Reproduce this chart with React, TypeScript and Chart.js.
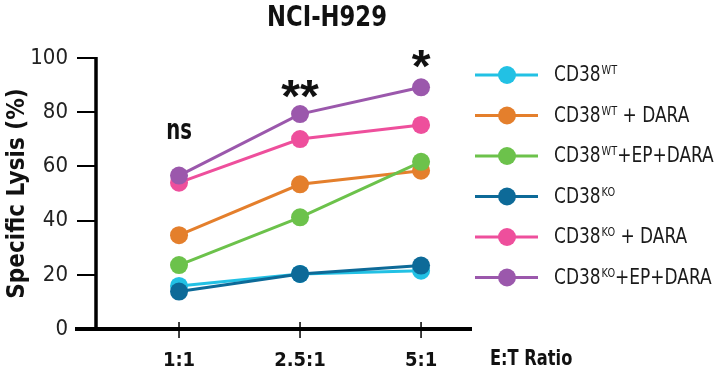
import React, { useEffect, useRef } from "react";
import { Chart, registerables } from "chart.js";

Chart.register(...registerables);

// ---------- data ----------
const categories = ["1:1", "2.5:1", "5:1"];
const cd38wt = [15.9, 20.3, 21.5];
const cd38wtDara = [34.6, 53.4, 58.4];
const cd38wtEpDara = [23.6, 41.2, 61.7];
const cd38ko = [13.8, 20.3, 23.4];
const cd38koDara = [54.0, 70.1, 75.3];
const cd38koEpDara = [56.6, 79.3, 89.2];
const seriesValues = [cd38wt, cd38wtDara, cd38wtEpDara, cd38ko, cd38koDara, cd38koEpDara];
const seriesBase = ["CD38", "CD38", "CD38", "CD38", "CD38", "CD38"];
const seriesSup = ["WT", "WT", "WT", "KO", "KO", "KO"];
const seriesRest = ["", " + DARA", "+EP+DARA", "", " + DARA", "+EP+DARA"];
const seriesColors = ["#22c1e4", "#e47f2c", "#6cc24b", "#0d6a98", "#ee4f9c", "#9b58ac"];
const significance = ["ns", "**", "*"];
const yTicks = [0, 20, 40, 60, 80, 100];
const chartTitle = "NCI-H929";
const yTitle = "Specific Lysis (%)";
const xTitle = "E:T Ratio";

const FONT = "'DejaVu Sans Condensed', 'DejaVu Sans', sans-serif";

function drawScaled(ctx: any, text: string, x: number, y: number, sx: number) {
  ctx.save();
  ctx.translate(x, y);
  ctx.scale(sx, 1);
  ctx.fillText(text, 0, 0);
  ctx.restore();
}

const decorPlugin = {
  id: "decor",
  beforeDatasetsDraw(chart: any) {
    const { ctx, chartArea, scales } = chart;
    const xs = scales.x;
    const ys = scales.y;
    ctx.save();
    ctx.strokeStyle = "#000";
    ctx.lineCap = "butt";
    ctx.lineWidth = 3.5;
    ctx.beginPath();
    ctx.moveTo(chartArea.left, ys.getPixelForValue(100) - 1);
    ctx.lineTo(chartArea.left, chartArea.bottom);
    ctx.stroke();
    ctx.lineWidth = 4;
    ctx.beginPath();
    ctx.moveTo(chartArea.left - 21, chartArea.bottom);
    ctx.lineTo(chartArea.right, chartArea.bottom);
    ctx.stroke();
    ctx.lineWidth = 1.5;
    categories.forEach((_, i) => {
      const px = xs.getPixelForValue(i);
      ctx.beginPath();
      ctx.moveTo(px, chartArea.bottom - 7);
      ctx.lineTo(px, chartArea.bottom + 9);
      ctx.stroke();
    });
    ctx.restore();
  },
  afterDraw(chart: any) {
    const { ctx, chartArea, scales } = chart;
    const xs = scales.x;
    const ys = scales.y;
    ctx.save();
    ctx.fillStyle = "#111";
    // chart title
    ctx.font = `bold 29px ${FONT}`;
    ctx.textAlign = "center";
    ctx.textBaseline = "middle";
    drawScaled(ctx, chartTitle, 327, 18, 0.87);
    // x-axis title
    ctx.font = `bold 21px ${FONT}`;
    ctx.textAlign = "left";
    drawScaled(ctx, xTitle, chartArea.right + 18, 360, 0.86);
    // significance marks: glyph top placed above the highest point
    const sigTopGap = [53, 34, 37];
    categories.forEach((_, i) => {
      const top = Math.max(...seriesValues.map((s) => s[i]));
      const px = xs.getPixelForValue(i);
      const glyphTop = ys.getPixelForValue(top) - sigTopGap[i];
      ctx.textAlign = "center";
      ctx.textBaseline = "alphabetic";
      let sx = 1;
      if (significance[i] === "ns") {
        ctx.font = `bold 28px ${FONT}`;
        sx = 0.78;
      } else {
        ctx.font = `bold 46px 'Liberation Sans', sans-serif`;
        sx = 1.05;
      }
      const m = ctx.measureText(significance[i]);
      drawScaled(ctx, significance[i], px, glyphTop + m.actualBoundingBoxAscent, sx);
    });
    // legend
    const lx0 = 475, lx1 = 538, mx = 507, ly0 = 75, step = 40.5, tx = 554, sx = 0.9;
    seriesColors.forEach((c, i) => {
      const y = ly0 + i * step;
      ctx.strokeStyle = c;
      ctx.lineWidth = 3;
      ctx.beginPath();
      ctx.moveTo(lx0, y);
      ctx.lineTo(lx1, y);
      ctx.stroke();
      ctx.fillStyle = c;
      ctx.beginPath();
      ctx.arc(mx, y, 9, 0, Math.PI * 2);
      ctx.fill();
      ctx.fillStyle = "#1a1a1a";
      ctx.textAlign = "left";
      ctx.textBaseline = "alphabetic";
      const base = y + 6;
      ctx.font = `21px ${FONT}`;
      drawScaled(ctx, seriesBase[i], tx, base, sx);
      let cx = tx + ctx.measureText(seriesBase[i]).width * sx + 1;
      ctx.font = `12px ${FONT}`;
      drawScaled(ctx, seriesSup[i], cx, base - 7, sx);
      cx += ctx.measureText(seriesSup[i]).width * sx;
      ctx.font = `21px ${FONT}`;
      drawScaled(ctx, seriesRest[i], cx, base, sx);
    });
    ctx.restore();
  },
};

export default function App() {
  const ref = useRef<HTMLCanvasElement | null>(null);
  useEffect(() => {
    if (!ref.current) return;
    const n = seriesValues.length;
    const chart = new Chart(ref.current, {
      type: "line",
      data: {
        datasets: seriesValues.map((vals, i) => ({
          label: seriesBase[i] + seriesSup[i] + seriesRest[i],
          data: vals.map((v, j) => ({ x: j, y: v })),
          borderColor: seriesColors[i],
          backgroundColor: seriesColors[i],
          pointBackgroundColor: seriesColors[i],
          pointBorderColor: seriesColors[i],
          pointBorderWidth: 0,
          pointRadius: 9,
          borderWidth: 3,
          tension: 0,
          order: n - i,
        })),
      },
      options: {
        animation: false,
        responsive: false,
        devicePixelRatio: 1,
        layout: { padding: { top: 58, left: 0, right: 246, bottom: 0 } },
        plugins: {
          legend: { display: false },
          tooltip: { enabled: false },
          title: { display: false },
        },
        scales: {
          x: {
            type: "linear",
            min: -0.686,
            max: 2.421,
            afterBuildTicks: (s: any) => {
              s.ticks = categories.map((_, i) => ({ value: i }));
            },
            afterFit: (s: any) => {
              s.height = 45;
            },
            grid: { display: false },
            border: { display: false },
            ticks: {
              callback: (v: any) => categories[v as number] ?? "",
              font: { family: FONT, size: 20, weight: "bold" },
              color: "#111",
              padding: 12,
              maxRotation: 0,
            },
          },
          y: {
            min: 0,
            max: 100,
            afterBuildTicks: (s: any) => {
              s.ticks = yTicks.map((v) => ({ value: v }));
            },
            afterFit: (s: any) => {
              s.width = 96;
            },
            grid: {
              display: true,
              drawOnChartArea: false,
              drawTicks: true,
              tickLength: 19,
              lineWidth: 2,
              color: "#000",
            },
            border: { display: false },
            ticks: {
              font: { family: FONT, size: 22 },
              color: "#222",
              padding: 9,
            },
            title: {
              display: true,
              text: yTitle,
              font: { family: FONT, size: 24, weight: "bold" },
              color: "#111",
              padding: { top: 3, bottom: 0 },
            },
          },
        },
      },
      plugins: [decorPlugin],
    });
    return () => chart.destroy();
  }, []);
  return (
    <div style={{ position: "fixed", left: 0, top: 0, width: 718, height: 374, background: "#fff" }}>
      <canvas ref={ref} width={718} height={374} style={{ display: "block" }} />
    </div>
  );
}
